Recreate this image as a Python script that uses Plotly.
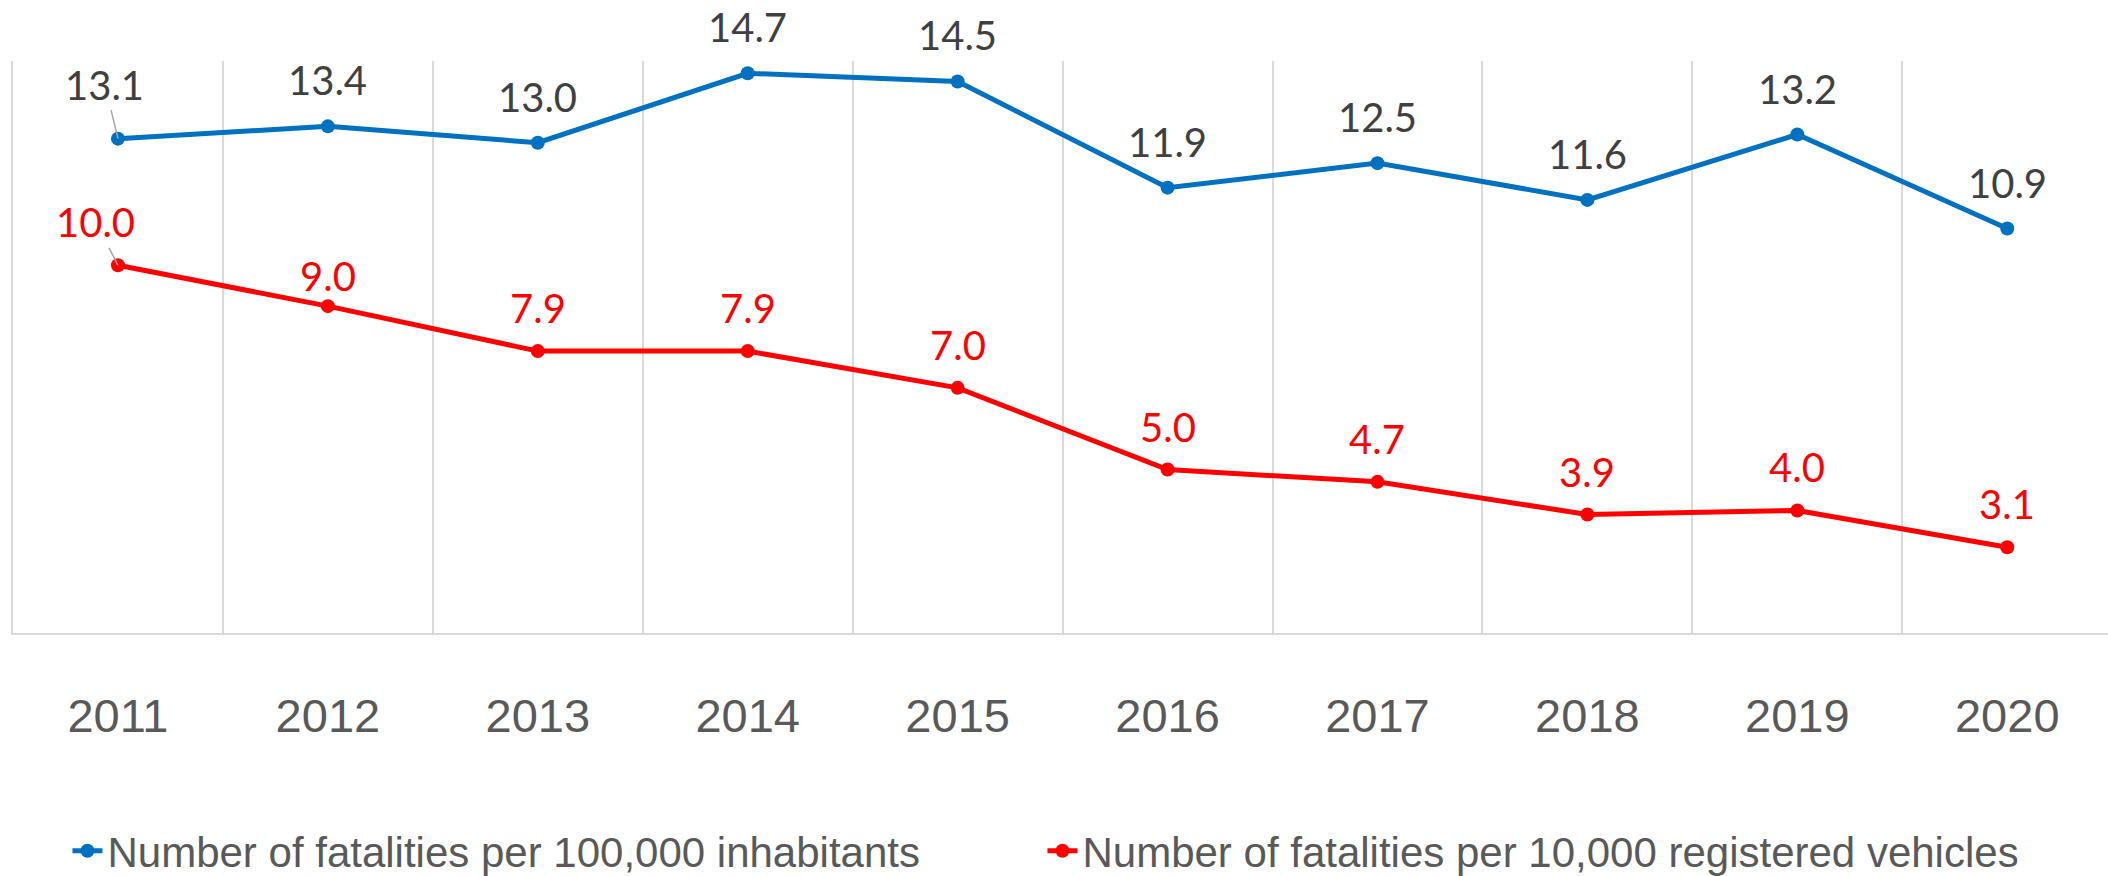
import plotly.graph_objects as go

years = ["2011", "2012", "2013", "2014", "2015", "2016", "2017", "2018", "2019", "2020"]
per_100k_inhabitants = [13.1, 13.4, 13.0, 14.7, 14.5, 11.9, 12.5, 11.6, 13.2, 10.9]
per_10k_vehicles = [10.0, 9.0, 7.9, 7.9, 7.0, 5.0, 4.7, 3.9, 4.0, 3.1]

name_inh = "Number of fatalities per 100,000 inhabitants"
name_veh = "Number of fatalities per 10,000 registered vehicles"

BLUE = "#0070C0"
RED = "#FF0000"
LABEL_FONT = "Lato"
AXIS_FONT = "Liberation Sans"

xs = list(range(len(years)))

fig = go.Figure()
fig.add_trace(go.Scatter(x=xs, y=per_100k_inhabitants, name=name_inh, mode="lines+markers",
                         line=dict(color=BLUE, width=5), marker=dict(color=BLUE, size=14)))
fig.add_trace(go.Scatter(x=xs, y=per_10k_vehicles, name=name_veh, mode="lines+markers",
                         line=dict(color=RED, width=5), marker=dict(color=RED, size=14)))

annotations = []
for i, v in enumerate(per_100k_inhabitants):
    a = dict(x=xs[i], y=v, xref="x", yref="y", text=f"{v:.1f}",
             font=dict(family=LABEL_FONT, size=40, color="#404040"))
    if i == 0:
        a.update(showarrow=True, arrowhead=0, arrowwidth=1.5, arrowcolor="#A6A6A6",
                 ax=-13, ay=-54, standoff=0)
    else:
        a.update(showarrow=False, yshift=46)
    annotations.append(a)
for i, v in enumerate(per_10k_vehicles):
    a = dict(x=xs[i], y=v, xref="x", yref="y", text=f"{v:.1f}",
             font=dict(family=LABEL_FONT, size=40, color=RED))
    if i == 0:
        a.update(showarrow=True, arrowhead=0, arrowwidth=1.5, arrowcolor="#A6A6A6",
                 ax=-22, ay=-43, standoff=0)
    else:
        a.update(showarrow=False, yshift=30 if i == 1 else 43)
    annotations.append(a)

fig.update_layout(
    width=2108, height=876,
    margin=dict(l=13, r=0, t=61, b=243, autoexpand=False),
    paper_bgcolor="white", plot_bgcolor="white",
    showlegend=True,
    legend=dict(orientation="h", x=0.026, y=-0.381, xanchor="left", yanchor="middle",
                font=dict(family=AXIS_FONT, size=42, color="#595959"),
                entrywidth=930, entrywidthmode="pixels", bgcolor="rgba(0,0,0,0)"),
    annotations=annotations,
)
fig.update_xaxes(range=[-0.5, 9.48], tickmode="array", tickvals=xs, ticktext=years,
                 showgrid=False, zeroline=False,
                 minor=dict(tick0=-0.5, dtick=1, showgrid=True, gridcolor="#D9D9D9", gridwidth=2, ticks=""),
                 showline=True, linecolor="#D9D9D9", linewidth=2,
                 ticks="", ticklabelstandoff=41,
                 tickfont=dict(family=AXIS_FONT, size=47, color="#595959"))
fig.update_yaxes(range=[1, 15], showgrid=False, zeroline=False, showticklabels=False,
                 showline=True, linecolor="#D9D9D9", linewidth=2)

fig.write_html("out.html", config={"displayModeBar": False},
               post_script="document.body.style.margin='0';")
